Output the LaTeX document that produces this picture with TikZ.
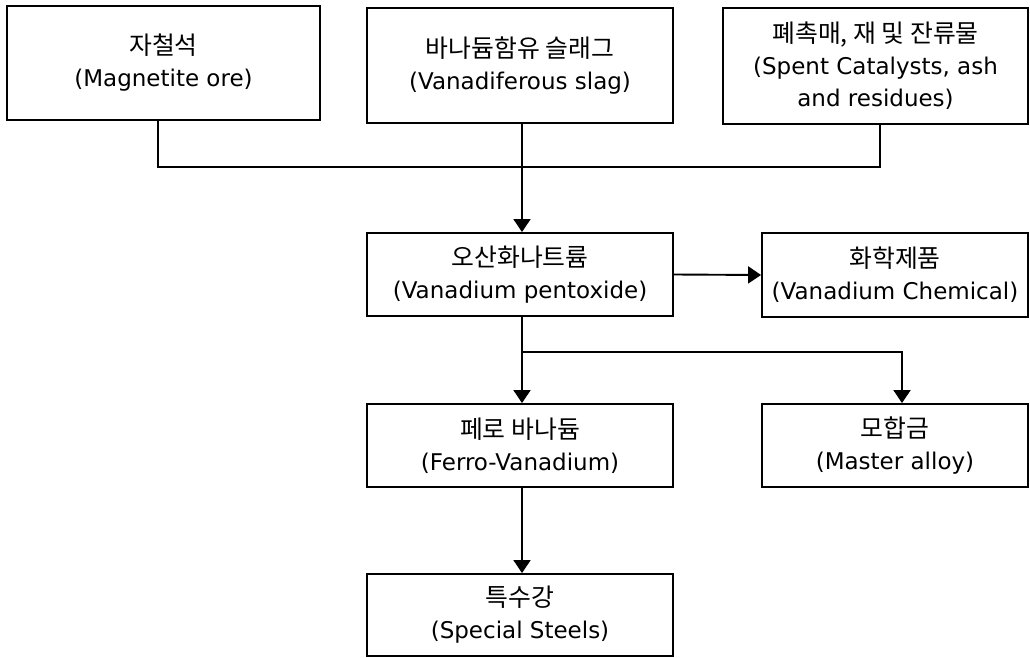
\documentclass[tikz,border=0pt]{standalone}
\usepackage{fontspec}
\setmainfont{DejaVu Sans}
\newfontfamily\kr[Scale=1.08]{Noto Sans CJK KR}
\usetikzlibrary{arrows.meta}

\tikzset{
    box/.style={draw, line width=1.9pt, align=center, inner sep=0pt,
        font=\fontsize{23}{32}\selectfont},
    flow/.style={line width=1.9pt},
    arr/.style={flow, -{Triangle[width=17pt, length=13pt]}}
}

\begin{document}
\begin{tikzpicture}[x=1pt, y=-1pt]
                \useasboundingbox (0,0) rectangle (1030,658);
                % Raw materials
                \node[box, minimum width=313pt, minimum height=114pt] (ore) at (163.5,63) {{\kr 자철석}\\(Magnetite ore)};
                \node[box, minimum width=306pt, minimum height=115pt] (slag) at (520,65.5) {{\kr 바나듐함유 슬래그}\\(Vanadiferous slag)};
                \node[box, minimum width=305pt, minimum height=116pt] (spent) at (875.5,66) {{\kr 폐촉매, 재 및 잔류물}\\(Spent Catalysts, ash\\and residues)};
                % Intermediate
                \node[box, minimum width=306pt, minimum height=83pt] (pent) at (520,274.5) {{\kr 오산화나트륨}\\(Vanadium pentoxide)};
                \node[box, minimum width=266pt, minimum height=84pt] (chem) at (895,275) {{\kr 화학제품}\\(Vanadium Chemical)};
                % Products
                \node[box, minimum width=306pt, minimum height=83pt] (ferro) at (520,445.5) {{\kr 페로 바나듐}\\(Ferro-Vanadium)};
                \node[box, minimum width=266pt, minimum height=83pt] (master) at (895,445.5) {{\kr 모합금}\\(Master alloy)};
                \node[box, minimum width=306pt, minimum height=82pt] (steel) at (520,615) {{\kr 특수강}\\(Special Steels)};
                % Connectors
                \coordinate (join) at (522,167);
                \coordinate (split) at (522,352);
                \draw[flow] ([xshift=-5.5pt]ore.south) |- (join) -| ([xshift=4.5pt]spent.south);
                \draw[arr] ([xshift=2pt]slag.south) -- ([xshift=2pt]pent.north);
                \draw[arr] (pent.east) -- (chem.west);
                \draw[flow] ([xshift=2pt]pent.south) -- (split);
                \draw[arr] (split) -- ([xshift=2pt]ferro.north);
                \draw[arr] (split) -| ([xshift=7pt]master.north);
                \draw[arr] ([xshift=2pt]ferro.south) -- ([xshift=2pt]steel.north);
\end{tikzpicture}
\end{document}
